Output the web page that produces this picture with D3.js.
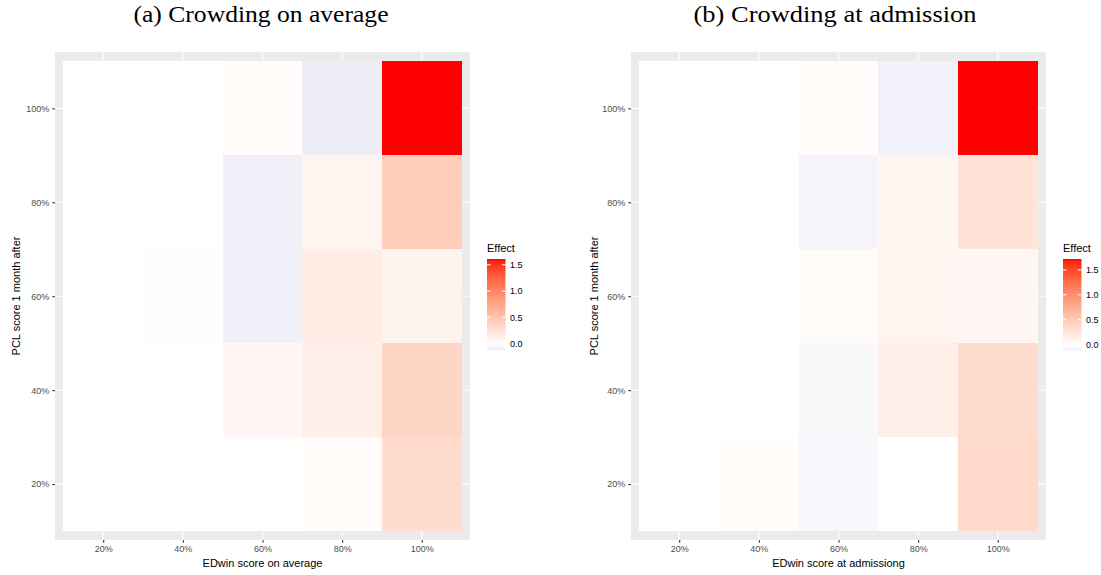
<!DOCTYPE html>
<html><head><meta charset="utf-8">
<script src="https://cdn.jsdelivr.net/npm/d3@7"></script>
<style>body{margin:0;background:#fff}svg{display:block}</style>
</head><body>
<svg id="chart" width="1101" height="575"></svg>
<script>
// categories (percent levels)
const xLevels = [20, 40, 60, 80, 100];
const yLevels = [20, 40, 60, 80, 100];
const tickLabels = ["20%", "40%", "60%", "80%", "100%"];
const legendTicks = [0, 0.5, 1.0, 1.5];

// Effect values, rows = PCL level (20%..100%), cols = EDwin level (20%..100%)
const effectAverage = [
  [0.00, 0.00, 0.00, 0.03, 0.30],   // PCL 20%
  [0.00, 0.00, 0.07, 0.14, 0.36],   // PCL 40%
  [0.00, 0.01, -0.12, 0.16, 0.105], // PCL 60%
  [0.00, 0.00, -0.12, 0.09, 0.43],  // PCL 80%
  [0.00, 0.00, 0.03, -0.13, 1.61]   // PCL 100%
];
const effectAdmission = [
  [0.00, 0.03, -0.06, 0.00, 0.35],  // PCL 20%
  [0.00, 0.00, -0.05, 0.15, 0.32],  // PCL 40%
  [0.00, 0.00, 0.04, 0.10, 0.07],   // PCL 60%
  [0.00, 0.00, -0.09, 0.09, 0.26],  // PCL 80%
  [0.00, 0.00, 0.03, -0.12, 1.72]   // PCL 100%
];

const panels = [
  {title: "(a) Crowding on average", xTitle: "EDwin score on average", data: effectAverage,
   px0: 55, px1: 470, titleX: 261, titleW: 255, yTitleX: 16, legX: 487},
  {title: "(b) Crowding at admission", xTitle: "EDwin score at admissiong", data: effectAdmission,
   px0: 631, px1: 1046, titleX: 835, titleW: 283, yTitleX: 594, legX: 1063}
];

const svg = d3.select("#chart");
const py0 = 52, py1 = 540;
const sans = "Liberation Sans, Arial, sans-serif";

panels.forEach((p, pi) => {
  const cells = [];
  p.data.forEach((row, ri) => row.forEach((v, ci) => cells.push({x: xLevels[ci], y: yLevels[ri], v})));
  const vmin = d3.min(cells, d => d.v), vmax = d3.max(cells, d => d.v);
  const ext = Math.max(Math.abs(vmin), Math.abs(vmax));
  const color = v => v >= 0 ? d3.interpolateLab("#ffffff", "#ff0000")(v / ext)
                            : d3.interpolateLab("#ffffff", "#3a3a98")(-v / ext);

  const x = d3.scaleLinear().domain([7.9, 112.1]).range([p.px0, p.px1]);
  const y = d3.scaleLinear().domain([8.1, 112]).range([py1, py0]);
  const g = svg.append("g");

  // panel background
  g.append("rect").attr("x", p.px0).attr("y", py0).attr("width", p.px1 - p.px0).attr("height", py1 - py0).attr("fill", "#ebebeb");
  // major grid
  g.selectAll(".gx").data(xLevels).join("line").attr("x1", d => x(d)).attr("x2", d => x(d))
    .attr("y1", py0).attr("y2", py1).attr("stroke", "#fff").attr("stroke-width", 1.07);
  g.selectAll(".gy").data(yLevels).join("line").attr("y1", d => y(d)).attr("y2", d => y(d))
    .attr("x1", p.px0).attr("x2", p.px1).attr("stroke", "#fff").attr("stroke-width", 1.07);

  // tiles
  g.selectAll(".tile").data(cells).join("rect")
    .attr("x", d => x(d.x - 10)).attr("width", d => x(d.x + 10) - x(d.x - 10))
    .attr("y", d => y(d.y + 10)).attr("height", d => y(d.y - 10) - y(d.y + 10))
    .attr("fill", d => color(d.v)).attr("shape-rendering", "crispEdges");

  // axes
  const xAxis = d3.axisBottom(x).tickValues(xLevels).tickFormat((d, i) => tickLabels[i]).tickSize(2.75).tickPadding(3);
  const ax = g.append("g").attr("transform", `translate(0,${py1})`).call(xAxis);
  const yAxis = d3.axisLeft(y).tickValues(yLevels).tickFormat((d, i) => tickLabels[i]).tickSize(2.75).tickPadding(3);
  const ay = g.append("g").attr("transform", `translate(${p.px0},0)`).call(yAxis);
  [ax, ay].forEach(a => {
    a.select(".domain").remove();
    a.selectAll(".tick line").attr("stroke", "#333").attr("stroke-width", 1.07);
    a.selectAll(".tick text").attr("fill", "#4d4d4d").style("font-family", sans).style("font-size", "9px");
  });

  // axis titles
  g.append("text").attr("x", (p.px0 + p.px1) / 2).attr("y", 567).attr("text-anchor", "middle")
    .style("font-family", sans).style("font-size", "11px").attr("fill", "#000").text(p.xTitle);
  g.append("text").attr("transform", `translate(${p.yTitleX},${(py0 + py1) / 2}) rotate(-90)`).attr("dy", "0.35em")
    .attr("text-anchor", "middle").style("font-family", sans).style("font-size", "11px")
    .attr("fill", "#000").text("PCL score 1 month after");

  // title
  g.append("text").attr("x", p.titleX).attr("y", 22).attr("text-anchor", "middle")
    .attr("textLength", p.titleW).attr("lengthAdjust", "spacingAndGlyphs")
    .style("font-family", "Liberation Serif, DejaVu Serif, serif").style("font-size", "23px").attr("fill", "#000").text(p.title);

  // legend
  const lb0 = 259, lb1 = 350.5, lw = 18.5;
  const ly = d3.scaleLinear().domain([vmin, vmax]).range([lb1, lb0]);
  const gradId = "grad" + pi;
  const grad = svg.append("defs").append("linearGradient").attr("id", gradId)
    .attr("x1", 0).attr("y1", 1).attr("x2", 0).attr("y2", 0);
  d3.range(0, 1.0001, 0.02).forEach(t => {
    const v = vmin + t * (vmax - vmin);
    grad.append("stop").attr("offset", t).attr("stop-color", color(v));
  });
  g.append("text").attr("x", p.legX).attr("y", 252).style("font-family", sans)
    .style("font-size", "11px").attr("fill", "#000").text("Effect");
  g.append("rect").attr("x", p.legX).attr("y", lb0).attr("width", lw).attr("height", lb1 - lb0).attr("fill", `url(#${gradId})`);
  legendTicks.forEach(t => {
    [[p.legX, p.legX + 3.7], [p.legX + lw - 3.7, p.legX + lw]].forEach(([a, b]) =>
      g.append("line").attr("x1", a).attr("x2", b).attr("y1", ly(t)).attr("y2", ly(t)).attr("stroke", "#fff").attr("stroke-width", 1));
    g.append("text").attr("x", p.legX + lw + 4.5).attr("y", ly(t)).attr("dy", "0.35em")
      .style("font-family", sans).style("font-size", "9px").attr("fill", "#000").text(t.toFixed(1));
  });
});
</script>
</body></html>
